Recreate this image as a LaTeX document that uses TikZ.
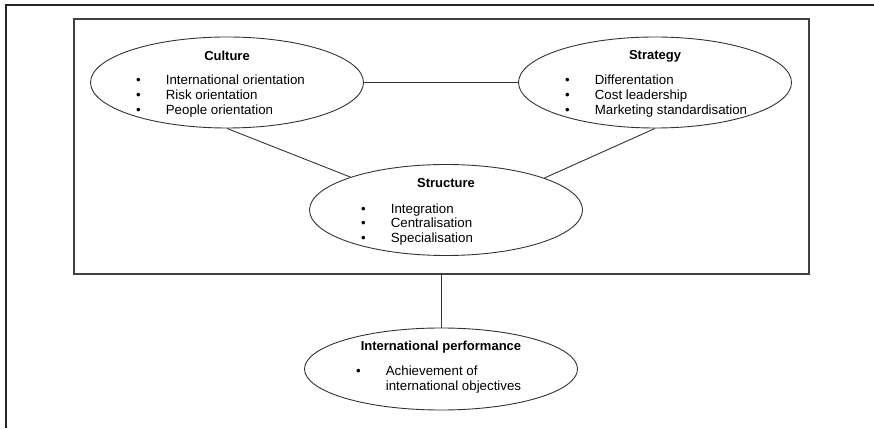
\documentclass[tikz,border=0pt]{standalone}
\usepackage{fontspec}
\setmainfont{Liberation Sans}
\usetikzlibrary{shapes.geometric}

\tikzset{
  oval/.style={draw=black!80, line width=0.9pt, ellipse, inner sep=0pt,
    minimum width=273pt, minimum height=91pt},
  heading/.style={font=\fontsize{13pt}{14.5pt}\selectfont\bfseries, inner sep=0pt},
  items/.style={font=\fontsize{13.3pt}{14.7pt}\selectfont, inner sep=0pt, anchor=west},
  link/.style={draw=black!80, line width=0.9pt}
}
\newcommand{\dotlist}[1]{\begin{tabular}{@{}l@{\hspace{25pt}}l@{}}#1\end{tabular}}

\begin{document}
\begin{tikzpicture}[x=1pt, y=1pt]
    \useasboundingbox (0,0) rectangle (874,428);

    % 1. Khung ngoài (chỉ có cạnh trên và cạnh trái)
    \draw[black!85, line width=1.2pt] (6,0) -- (6,423) -- (874,423);

    % 2. Khung trong bao ba yếu tố
    \node[draw=black!75, line width=1.2pt, inner sep=0pt,
        minimum width=735pt, minimum height=255pt] (frame) at (441.5,281.5) {};

    % 3. Các hình elip
    \node[oval] (culture) at (227,345.5) {};
    \node[oval] (strategy) at (655,345.5) {};
    \node[oval] (structure) at (446,218) {};
    \node[oval, minimum height=82pt] (perf) at (441,59) {};

    % 4. Tiêu đề và danh sách trong mỗi elip
    \node[heading] (cultureT) at (227,372) {Culture};
    \node[items] (cultureL) at (136,331.5) {\dotlist{%
        \textbullet & International orientation\\
        \textbullet & Risk orientation\\
        \textbullet & People orientation}};

    \node[heading] (strategyT) at (655,372) {Strategy};
    \node[items] (strategyL) at (565,331.5) {\dotlist{%
        \textbullet & Differentation\\
        \textbullet & Cost leadership\\
        \textbullet & Marketing standardisation}};

    \node[heading] (structureT) at (446,245) {Structure};
    \node[items] (structureL) at (361,203) {\dotlist{%
        \textbullet & Integration\\
        \textbullet & Centralisation\\
        \textbullet & Specialisation}};

    \node[heading] (perfT) at (441,81) {International performance};
    \node[items] (perfL) at (356,48) {\dotlist{%
        \textbullet & Achievement of\\
                    & international objectives}};

    % 5. Các đường nối
    \draw[link] (culture.east) -- (strategy.west);
    \draw[link] (culture.south) -- (structure.161);
    \draw[link] (strategy.south) -- (structure.18);
    \draw[link] (frame.south -| perf.north) -- (perf.north);

\end{tikzpicture}
\end{document}
